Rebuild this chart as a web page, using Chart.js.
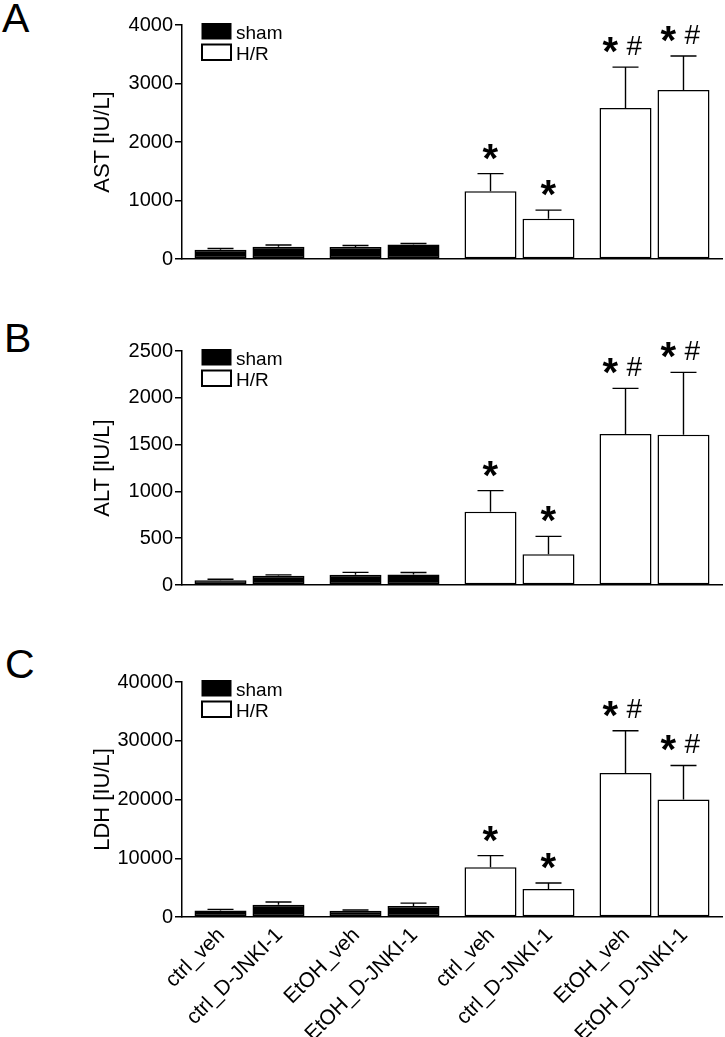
<!DOCTYPE html>
<html>
<head>
<meta charset="utf-8">
<script src="https://cdn.jsdelivr.net/npm/chart.js@4.4.1/dist/chart.umd.min.js"></script>
<style>
  body { margin: 0; background: #fff; width: 725px; height: 1037px; position: relative; overflow: hidden;
         font-family: "Liberation Sans", Arial, Helvetica, sans-serif; }
  .panel { position: absolute; left: 0; width: 725px; }
  .tag { position: absolute; font-size: 41px; line-height: 41px; color: #000; }
</style>
</head>
<body>
<div class="tag" style="left:2px;top:-2px">A</div>
<div class="tag" style="left:4px;top:318px">B</div>
<div class="tag" style="left:5px;top:644px">C</div>
<div class="panel" style="top:0"><canvas id="astChart" width="725" height="280"></canvas></div>
<div class="panel" style="top:280px"><canvas id="altChart" width="725" height="330"></canvas></div>
<div class="panel" style="top:610px"><canvas id="ldhChart" width="725" height="427"></canvas></div>
<script>
Chart.defaults.font.family = '"Liberation Sans", Arial, Helvetica, sans-serif';
Chart.defaults.color = '#000';

// groups on the x axis, two bars (veh / D-JNKI-1) each
const groupNames = ['ctrl', 'EtOH', 'ctrl', 'EtOH'];
const groupCondition = ['sham', 'sham', 'H/R', 'H/R'];
const treatments = ['veh', 'D-JNKI-1'];
const barLabels = ['ctrl_veh', 'ctrl_D-JNKI-1', 'EtOH_veh', 'EtOH_D-JNKI-1',
                   'ctrl_veh', 'ctrl_D-JNKI-1', 'EtOH_veh', 'EtOH_D-JNKI-1'];
const marks = ['', '', '', '', '*', '*', '*#', '*#'];
const legendNames = ['sham', 'H/R'];

// mean and upper error (IU/L), in bar order
const astMean = [160, 210, 205, 250, 1160, 690, 2580, 2890];
const astSd = [20, 30, 25, 15, 300, 145, 700, 580];
const altMean = [50, 100, 110, 112, 783, 328, 1613, 1606];
const altSd = [12, 8, 25, 22, 225, 192, 488, 666];
const ldhMean = [1100, 2100, 1050, 1870, 8450, 4770, 24500, 20000];
const ldhSd = [200, 450, 150, 500, 2000, 1020, 7200, 5800];

const fillFor = c => (c === 'sham' ? '#000' : '#fff');

// upward error bars with caps
const errorBars = {
  id: 'errorBars',
  afterDatasetsDraw(chart) {
    const { ctx } = chart;
    const y = chart.scales.y;
    ctx.save();
    ctx.strokeStyle = '#000';
    ctx.lineWidth = 1.4;
    chart.data.datasets.forEach((ds, di) => {
      chart.getDatasetMeta(di).data.forEach((bar, i) => {
        const top = y.getPixelForValue(ds.data[i] + ds.sd[i]);
        const half = bar.width / 4;
        ctx.beginPath();
        ctx.moveTo(bar.x, bar.y);
        ctx.lineTo(bar.x, top);
        ctx.moveTo(bar.x - half, top);
        ctx.lineTo(bar.x + half, top);
        ctx.stroke();
      });
    });
    ctx.restore();
  }
};

function glyph(ctx, ch, font, cx, cy) {
  ctx.font = font;
  const m = ctx.measureText(ch);
  const w = m.actualBoundingBoxLeft + m.actualBoundingBoxRight;
  const x = cx - w / 2 + m.actualBoundingBoxLeft;
  const yy = cy + (m.actualBoundingBoxAscent - m.actualBoundingBoxDescent) / 2;
  ctx.fillText(ch, x, yy);
}

// significance marks above the error bars
const sigMarks = {
  id: 'sigMarks',
  afterDatasetsDraw(chart) {
    const { ctx } = chart;
    const y = chart.scales.y;
    const fam = Chart.defaults.font.family;
    ctx.save();
    ctx.fillStyle = '#000';
    ctx.textAlign = 'left';
    ctx.textBaseline = 'alphabetic';
    chart.data.datasets.forEach((ds, di) => {
      chart.getDatasetMeta(di).data.forEach((bar, i) => {
        const mk = ds.marks[i];
        if (!mk) return;
        const cy = y.getPixelForValue(ds.data[i] + ds.sd[i]) - 22;
        if (mk === '*') {
          glyph(ctx, '*', 'bold 40px ' + fam, bar.x, cy);
        } else {
          glyph(ctx, '*', 'bold 40px ' + fam, bar.x - 15, cy);
          glyph(ctx, '#', '28px ' + fam, bar.x + 9, cy);
        }
      });
    });
    ctx.restore();
  }
};

// sham / H/R key inside the plot
const keyBox = {
  id: 'keyBox',
  afterDraw(chart) {
    const { ctx, chartArea } = chart;
    const x0 = chartArea.left + 20;
    ctx.save();
    ctx.font = '19px ' + Chart.defaults.font.family;
    ctx.textBaseline = 'alphabetic';
    ctx.textAlign = 'left';
    legendNames.forEach((name, k) => {
      const top = chartArea.top - 1.5 + k * 21;
      ctx.fillStyle = fillFor(name);
      ctx.fillRect(x0, top, 29, 15.5);
      ctx.strokeStyle = '#000';
      ctx.lineWidth = name === 'sham' ? 1 : 2;
      ctx.strokeRect(x0, top, 29, 15.5);
      ctx.fillStyle = '#000';
      ctx.fillText(name, x0 + 34, top + 15.5);
    });
    ctx.restore();
  }
};

// rotated bar names under the bottom panel
const barNames = {
  id: 'barNames',
  afterDraw(chart) {
    const { ctx } = chart;
    const base = chart.scales.y.getPixelForValue(0);
    ctx.save();
    ctx.fillStyle = '#000';
    ctx.font = '21px ' + Chart.defaults.font.family;
    ctx.textAlign = 'right';
    ctx.textBaseline = 'middle';
    chart.data.datasets.forEach((ds, di) => {
      chart.getDatasetMeta(di).data.forEach((bar, i) => {
        ctx.save();
        ctx.translate(bar.x + 1, base + 15);
        ctx.rotate(-Math.PI / 4);
        ctx.fillText(ds.names[i], 0, 0);
        ctx.restore();
      });
    });
    ctx.restore();
  }
};

function makePanel(id, title, mean, sd, max, step, pad, withNames) {
  const datasets = treatments.map((t, ti) => ({
    label: t,
    data: groupNames.map((g, gi) => mean[gi * 2 + ti]),
    sd: groupNames.map((g, gi) => sd[gi * 2 + ti]),
    marks: groupNames.map((g, gi) => marks[gi * 2 + ti]),
    names: groupNames.map((g, gi) => barLabels[gi * 2 + ti]),
    backgroundColor: groupCondition.map(fillFor),
    borderColor: '#000',
    borderWidth: 1.5,
    borderSkipped: false,
    categoryPercentage: 0.859,
    barPercentage: 0.897
  }));
  return new Chart(document.getElementById(id), {
    type: 'bar',
    data: { labels: groupNames.map((g, gi) => g + ' ' + groupCondition[gi]), datasets },
    options: {
      responsive: false,
      animation: false,
      layout: { padding: { left: 0, right: 3, top: pad[0], bottom: pad[1] } },
      plugins: { legend: { display: false }, tooltip: { enabled: false } },
      scales: {
        x: {
          grid: { display: false, drawTicks: false },
          ticks: { display: false },
          border: { display: true, color: '#000', width: 1.5 }
        },
        y: {
          min: 0, max,
          afterFit: s => { s.width = 182; },
          ticks: { stepSize: step, font: { size: 20 }, color: '#000', padding: 2, callback: v => String(v) },
          grid: { drawOnChartArea: false, drawTicks: true, tickLength: 7, color: '#000', lineWidth: 1.5 },
          border: { display: true, color: '#000', width: 1.5 },
          title: { display: true, text: title, font: { size: 22 }, color: '#000', padding: { top: 90, bottom: 0 } }
        }
      }
    },
    plugins: withNames ? [errorBars, sigMarks, keyBox, barNames] : [errorBars, sigMarks, keyBox]
  });
}

makePanel('astChart', 'AST [IU/L]', astMean, astSd, 4000, 1000, [25, 21], false);
makePanel('altChart', 'ALT [IU/L]', altMean, altSd, 2500, 500, [71, 25], false);
makePanel('ldhChart', 'LDH [IU/L]', ldhMean, ldhSd, 40000, 10000, [72, 120], true);
</script>
</body>
</html>
